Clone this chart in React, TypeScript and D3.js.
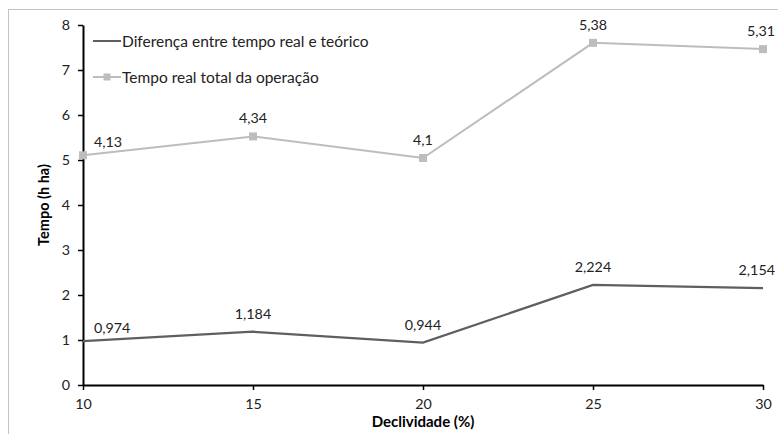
import React, { useRef, useEffect } from 'react';
import * as d3 from 'd3';

// Declividade (%) on x, tempo (h ha) on y
const declividade = [10, 15, 20, 25, 30];
const diferenca = [0.974, 1.184, 0.944, 2.224, 2.154];
const tempoReal = [4.13, 4.34, 4.1, 5.38, 5.31];
const yTicks = [0, 1, 2, 3, 4, 5, 6, 7, 8];
const seriesNames = ['Diferença entre tempo real e teórico', 'Tempo real total da operação'];

const width = 778;
const height = 434;
const FONT = 'Lato, "Open Sans", sans-serif';

const App: React.FC = () => {
  const svgRef = useRef<SVGSVGElement | null>(null);

  useEffect(() => {
    if (!svgRef.current) return;
    const svg = d3.select(svgRef.current);
    svg.selectAll('*').remove();

    const x = d3.scaleLinear().domain([10, 30]).range([83, 763]);
    const y = d3.scaleLinear().domain([0, 8]).range([385, 25]);

    // chart frame (right/bottom edges run off the picture)
    svg
      .append('rect')
      .attr('x', 8.5)
      .attr('y', 9.5)
      .attr('width', 820)
      .attr('height', 500)
      .attr('fill', 'none')
      .attr('stroke', '#c4c4c4');

    const rows = declividade.map((d, i) => ({ d, dif: diferenca[i], real: tempoReal[i] }));
    // the total line sits on top of the difference (stacked lines)
    const stacked = d3.stack<any>().keys(['dif', 'real'])(rows);

    const fmt = (v: number) => String(v).replace('.', ',');

    // axes
    const yAxis = svg
      .append('g')
      .attr('transform', `translate(${x(10)},0)`)
      .call(d3.axisLeft(y).tickValues(yTicks).tickSize(5).tickSizeOuter(0));
    const xAxis = svg
      .append('g')
      .attr('transform', `translate(0,${y(0)})`)
      .call(d3.axisBottom(x).tickValues(declividade).tickSize(5).tickSizeOuter(0));

    [yAxis, xAxis].forEach((g) => {
      g.select('.domain').attr('stroke', '#000').attr('stroke-width', 2);
      g.selectAll('.tick line').attr('stroke', '#000').attr('stroke-width', 1.5);
      g.selectAll('.tick text')
        .attr('fill', '#222')
        .style('font-family', FONT)
        .style('font-size', '14.3px');
    });
    yAxis.selectAll('.tick text').attr('x', -13);
    xAxis.selectAll('.tick text').attr('y', 14);

    // axis titles
    svg
      .append('text')
      .attr('transform', `translate(49,${(y(0) + y(8)) / 2}) rotate(-90)`)
      .attr('text-anchor', 'middle')
      .style('font-family', FONT)
      .style('font-size', '14.5px')
      .style('font-weight', 'bold')
      .text('Tempo (h ha)');
    svg
      .append('text')
      .attr('x', (x(10) + x(30)) / 2)
      .attr('y', 427)
      .attr('text-anchor', 'middle')
      .style('font-family', FONT)
      .style('font-size', '15px')
      .style('font-weight', 'bold')
      .text('Declividade (%)');

    const colors = ['#5f5f5f', '#bdbdbd'];
    const rawValues = [diferenca, tempoReal];

    stacked.forEach((layer, si) => {
      const line = d3
        .line<any>()
        .x((p) => x(p.data.d))
        .y((p) => y(p[1]));
      svg
        .append('path')
        .datum(layer)
        .attr('d', line)
        .attr('fill', 'none')
        .attr('stroke', colors[si])
        .attr('stroke-width', si === 0 ? 2.2 : 2);

      if (si === 1) {
        svg
          .selectAll(null)
          .data(layer)
          .join('rect')
          .attr('x', (p: any) => x(p.data.d) - 4)
          .attr('y', (p: any) => y(p[1]) - 4)
          .attr('width', 8)
          .attr('height', 8)
          .attr('fill', colors[si]);
      }

      // data labels
      svg
        .selectAll(null)
        .data(layer)
        .join('text')
        .attr('x', (p: any, i) =>
          i === 0 ? x(p.data.d) + 11 : i === layer.length - 1 ? width - 3 : x(p.data.d),
        )
        .attr('y', (p: any, i) => y(p[1]) - (i === 0 ? 8 : 13))
        .attr('text-anchor', (_p, i) => (i === 0 ? 'start' : i === layer.length - 1 ? 'end' : 'middle'))
        .attr('fill', '#222')
        .style('font-family', FONT)
        .style('font-size', '14.3px')
        .text((_p, i) => fmt(rawValues[si][i]));
    });

    // legend
    const legend = svg.append('g');
    seriesNames.forEach((name, i) => {
      const ly = 41 + i * 36;
      legend
        .append('line')
        .attr('x1', 93)
        .attr('x2', 121)
        .attr('y1', ly)
        .attr('y2', ly)
        .attr('stroke', colors[i])
        .attr('stroke-width', 2);
      if (i === 1) {
        legend
          .append('rect')
          .attr('x', 107 - 3.5)
          .attr('y', ly - 3.5)
          .attr('width', 7)
          .attr('height', 7)
          .attr('fill', colors[i]);
      }
      legend
        .append('text')
        .attr('x', 122)
        .attr('y', ly + 5.5)
        .attr('fill', '#222')
        .style('font-family', FONT)
        .style('font-size', '15.5px')
        .text(name);
    });
  }, []);

  return (
    <svg
      ref={svgRef}
      width={width}
      height={height}
      style={{ position: 'absolute', left: 0, top: 0, background: '#fff' }}
    ></svg>
  );
};

export default App;
